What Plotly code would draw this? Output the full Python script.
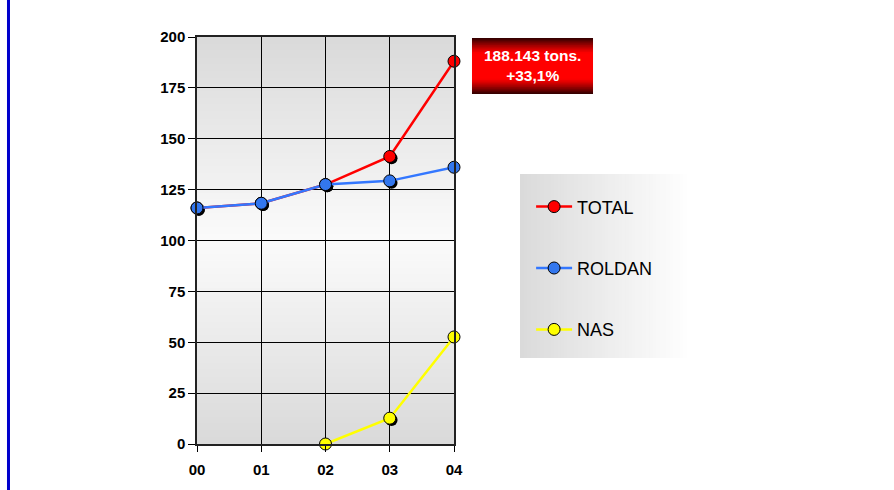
import plotly.graph_objects as go

years = ["00", "01", "02", "03", "04"]
x_idx = [0, 1, 2, 3, 4]
total = [116, 118.3, 127.5, 141.3, 188.1]
roldan = [116, 118.3, 127.5, 129.3, 136]
nas_x = [2, 3, 4]
nas = [0, 12.7, 52.6]
y_ticks = [0, 25, 50, 75, 100, 125, 150, 175, 200]
note_lines = ["188.143 tons.", "+33,1%"]

series = [
    ("TOTAL", x_idx, total, "#ff0000", "#ff0000"),
    ("ROLDAN", x_idx, roldan, "#3377ff", "#3377ee"),
    ("NAS", nas_x, nas, "#ffff00", "#ffff00"),
]

fig = go.Figure()

# base subplot holder (carries the visible axes, grid and ticks)
fig.add_trace(go.Scatter(x=[None], y=[None], mode="markers", showlegend=False,
                         hoverinfo="skip"))

# shadows (black markers on a slightly shifted overlay axis, drawn under the series)
for name, xs, ys, lc, mc in series:
    fig.add_trace(go.Scatter(
        x=xs, y=ys, mode="markers", xaxis="x2", yaxis="y2",
        marker=dict(size=12, color="black", line=dict(width=0)),
        showlegend=False, hoverinfo="skip", cliponaxis=False))

for i, (name, xs, ys, lc, mc) in enumerate(series):
    fig.add_trace(go.Scatter(
        x=xs, y=ys, mode="lines+markers", name=name, legendgroup=name,
        xaxis="x3", yaxis="y3",
        line=dict(color=lc, width=2.5),
        marker=dict(size=12, color=mc, line=dict(color="black", width=1)),
        cliponaxis=False))

shapes = []
# plot-area vertical gradient (gray -> white -> gray)
n = 60
for k in range(n):
    t = (k + 0.5) / n
    d = abs(t - 0.5) * 2
    v = int(round(251 - (251 - 217) * d))
    shapes.append(dict(type="rect", xref="paper", yref="paper",
                       x0=0, x1=1, y0=k / n, y1=min(1, (k + 1.6) / n),
                       fillcolor=f"rgb({v},{v},{v})", line=dict(width=0),
                       layer="below"))

# legend horizontal gradient
lx0, lx1, ly0, ly1 = 1.2568, 1.9183, 0.2113, 0.6634
m = 50
for k in range(m):
    t = (k + 0.5) / m
    v = int(round(218 + (255 - 218) * t))
    shapes.append(dict(type="rect", xref="paper", yref="paper",
                       x0=lx0 + (lx1 - lx0) * k / m,
                       x1=lx0 + (lx1 - lx0) * min(m, k + 1.6) / m,
                       y0=ly0, y1=ly1,
                       fillcolor=f"rgb({v},{v},{v})", line=dict(width=0),
                       layer="below"))

# annotation box vertical gradient (dark red -> red -> dark red)
ax0, ax1, ay0, ay1 = 1.0700, 1.5409, 0.8600, 0.9975
q = 40
for k in range(q):
    t = (k + 0.5) / q
    d = abs(t - 0.5) * 2
    if d < 0.45:
        r = 255
    else:
        r = int(round(255 - (255 - 45) * ((d - 0.45) / 0.55) ** 1.2))
    shapes.append(dict(type="rect", xref="paper", yref="paper",
                       x0=ax0, x1=ax1,
                       y0=ay0 + (ay1 - ay0) * k / q,
                       y1=ay0 + (ay1 - ay0) * min(q, k + 1.6) / q,
                       fillcolor=f"rgb({r},0,0)", line=dict(width=0),
                       layer="below"))

# blue vertical rule at left
shapes.append(dict(type="line", xref="paper", yref="paper",
                   x0=-0.7335, x1=-0.7335, y0=-0.2, y1=1.2,
                   line=dict(color="#0000cc", width=3), layer="above"))

fig.update_layout(
    width=894, height=490,
    margin=dict(l=197, r=440, t=37, b=46),
    paper_bgcolor="white", plot_bgcolor="rgba(0,0,0,0)",
    font=dict(family="Liberation Sans, Arial, sans-serif", color="black"),
    shapes=shapes,
    showlegend=True,
    legend=dict(x=1.300, y=0.628, xanchor="left", yanchor="top",
                bgcolor="rgba(0,0,0,0)", font=dict(size=18),
                tracegroupgap=35, itemwidth=36),
    annotations=[dict(xref="paper", yref="paper", x=(ax0 + ax1) / 2, y=(ay0 + ay1) / 2,
                      text="<br>".join(note_lines), showarrow=False,
                      font=dict(size=15.5, color="white", weight="bold"),
                      align="center", xanchor="center", yanchor="middle")],
    xaxis=dict(range=[0, 4], tickvals=x_idx, ticktext=years,
               showgrid=True, gridcolor="black", gridwidth=1,
               showline=True, linecolor="#222", linewidth=1.5, mirror=True,
               ticks="outside", ticklen=6, tickcolor="black", ticklabelstandoff=5,
               tickfont=dict(size=15, weight="bold"), zeroline=False),
    yaxis=dict(range=[0, 200], tickvals=y_ticks,
               showgrid=True, gridcolor="black", gridwidth=1,
               showline=True, linecolor="#222", linewidth=1.5, mirror=True,
               ticks="outside", ticklen=7, tickcolor="black",
               tickfont=dict(size=15, weight="bold"), zeroline=False),
    xaxis2=dict(range=[-0.028, 3.972], overlaying="x", visible=False),
    yaxis2=dict(range=[0.9, 200.9], overlaying="y", visible=False),
    xaxis3=dict(range=[0, 4], overlaying="x", visible=False),
    yaxis3=dict(range=[0, 200], overlaying="y", visible=False),
)

fig.write_html("out.html", config={"displayModeBar": False},
               post_script="document.body.style.margin='0';")
